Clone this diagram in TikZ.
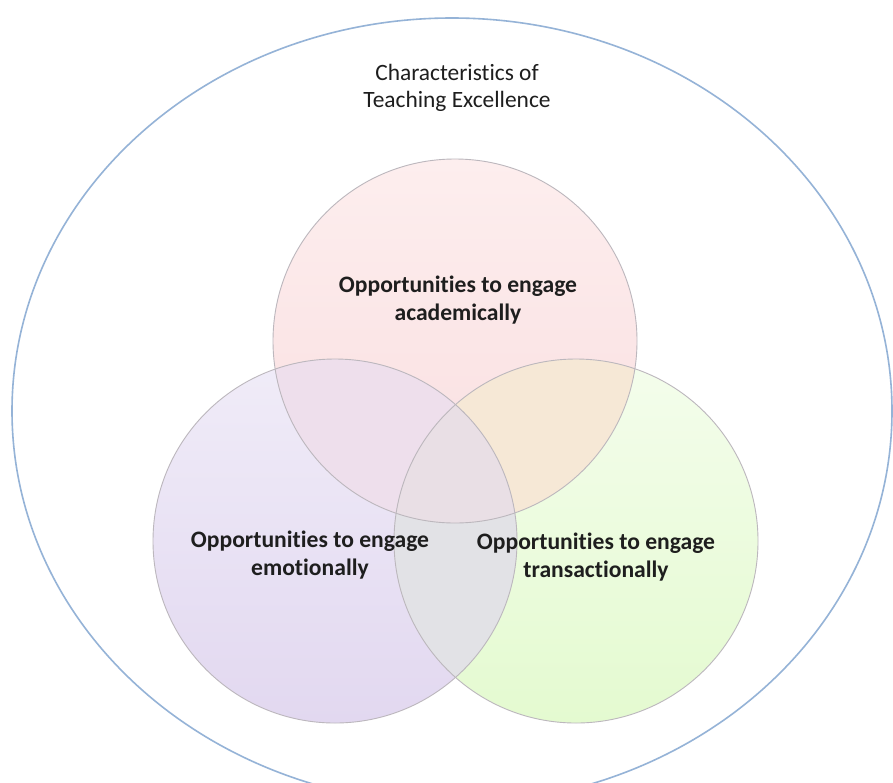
\documentclass[tikz,border=0pt]{standalone}
\usepackage{fontspec}
\setmainfont{Carlito}[Ligatures=NoCommon]
\definecolor{pinkT}{RGB}{253,238,238}
\definecolor{pinkB}{RGB}{249,222,224}
\definecolor{purT}{RGB}{240,236,248}
\definecolor{purB}{RGB}{226,216,240}
\definecolor{grnT}{RGB}{244,253,236}
\definecolor{grnB}{RGB}{228,250,208}
\definecolor{pinkpur}{RGB}{238,223,236}
\definecolor{pinkgrn}{RGB}{246,232,214}
\definecolor{purgrn}{RGB}{226,226,230}
\definecolor{triple}{RGB}{233,223,229}
\definecolor{circline}{RGB}{188,183,189}
\definecolor{outerline}{RGB}{149,179,215}
\definecolor{txt}{RGB}{30,30,30}
\tikzset{
  circline/.style={draw=circline, line width=0.9pt},
  outerring/.style={draw=outerline, line width=1.6pt},
  titletext/.style={align=center, text=txt, font=\fontsize{23.4}{27}\selectfont, inner sep=0pt},
  labeltext/.style={align=center, text=txt, font=\bfseries\fontsize{23.6}{28}\selectfont, inner sep=0pt}
}
\begin{document}
\begin{tikzpicture}[x=1pt,y=-1pt]
\useasboundingbox (0,0) rectangle (893,782);
\clip (0,0) rectangle (893,782);
\fill[white] (0,0) rectangle (893,782);
\coordinate (A) at (455,341);
\coordinate (E) at (335,541);
\coordinate (T) at (576,541);
% circles
\shade[top color=pinkT, bottom color=pinkB] (A) circle[radius=182pt];
\shade[top color=purT, bottom color=purB] (E) circle[radius=182pt];
\shade[top color=grnT, bottom color=grnB] (T) circle[radius=182pt];
% overlaps
\begin{scope}
  \clip (A) circle[radius=182pt];
  \fill[pinkpur] (E) circle[radius=182pt];
\end{scope}
\begin{scope}
  \clip (A) circle[radius=182pt];
  \fill[pinkgrn] (T) circle[radius=182pt];
\end{scope}
\begin{scope}
  \clip (E) circle[radius=182pt];
  \fill[purgrn] (T) circle[radius=182pt];
\end{scope}
\begin{scope}
  \clip (A) circle[radius=182pt];
  \clip (E) circle[radius=182pt];
  \fill[triple] (T) circle[radius=182pt];
\end{scope}
% outlines
\draw[circline] (A) circle[radius=182pt];
\draw[circline] (E) circle[radius=182pt];
\draw[circline] (T) circle[radius=182pt];
% outer ellipse
\draw[outerring] (452,411) ellipse[x radius=440pt, y radius=393pt];
% texts
\node[titletext] (title) at (457,88) {Characteristics of\\Teaching Excellence};
\node[labeltext] (acad) at (458,300) {Opportunities to engage\\academically};
\node[labeltext] (emo) at (310,555) {Opportunities to engage\\emotionally};
\node[labeltext] (trans) at (596,557) {Opportunities to engage\\transactionally};
\end{tikzpicture}
\end{document}
